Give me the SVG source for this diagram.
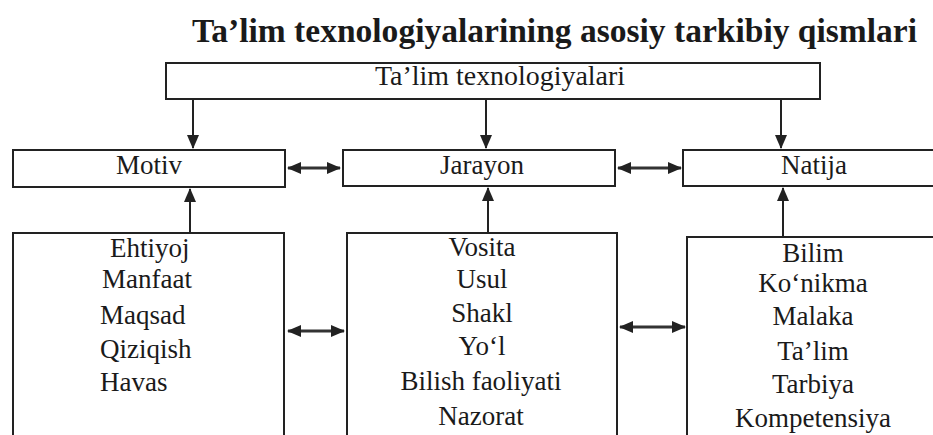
<svg xmlns="http://www.w3.org/2000/svg" width="933" height="435" viewBox="0 0 933 435">
<style>
.box{fill:#fff;stroke:#222;stroke-width:2}
.t{font-family:'Liberation Serif','Tinos','Times New Roman','Nimbus Roman','DejaVu Serif',serif;font-size:27px;fill:#1a1a1a}
.c{text-anchor:middle}
.title{font-family:'Liberation Serif','Tinos','Times New Roman','Nimbus Roman','DejaVu Serif',serif;font-size:33px;font-weight:bold;fill:#1a1a1a}
.ln{stroke:#222;stroke-width:2;fill:none}
.hl{stroke:#333;stroke-width:3;fill:none}
</style>
<defs>
<marker id="ah" viewBox="0 0 14 12" markerWidth="14" markerHeight="12" refX="13" refY="6" orient="auto-start-reverse" markerUnits="userSpaceOnUse">
<path d="M0,0 L14,6 L0,12 z" fill="#222"/>
</marker>
</defs>
<rect width="933" height="435" fill="#fff"/>
<text class="title" x="192" y="42" textLength="725" lengthAdjust="spacingAndGlyphs">Ta’lim texnologiyalarining asosiy tarkibiy qismlari</text>

<g id="top">
<rect class="box" x="166" y="63" width="654" height="36"/>
<text class="t" x="375" y="85" textLength="250" lengthAdjust="spacingAndGlyphs">Ta’lim texnologiyalari</text>
</g>

<g id="motiv">
<rect class="box" x="13" y="150" width="272" height="37"/>
<text class="t c" x="149" y="174">Motiv</text>
</g>
<g id="jarayon">
<rect class="box" x="343" y="150" width="272" height="36"/>
<text class="t c" x="482" y="174">Jarayon</text>
</g>
<g id="natija">
<rect class="box" x="683" y="150" width="270" height="36"/>
<text class="t c" x="814" y="174">Natija</text>
</g>

<g id="motiv-items">
<rect class="box" x="13" y="233" width="271" height="215"/>
<text class="t" x="110" y="257">Ehtiyoj</text>
<text class="t" x="102" y="288">Manfaat</text>
<text class="t" x="100" y="324">Maqsad</text>
<text class="t" x="100" y="358">Qiziqish</text>
<text class="t" x="100" y="391">Havas</text>
</g>
<g id="jarayon-items">
<rect class="box" x="347" y="233" width="270" height="215"/>
<text class="t c" x="482" y="256">Vosita</text>
<text class="t c" x="482" y="288">Usul</text>
<text class="t c" x="482" y="322">Shakl</text>
<text class="t c" x="482" y="355">Yo‘l</text>
<text class="t c" x="481" y="390">Bilish faoliyati</text>
<text class="t c" x="481" y="425">Nazorat</text>
</g>
<g id="natija-items">
<rect class="box" x="687" y="237" width="266" height="211"/>
<text class="t c" x="813" y="262">Bilim</text>
<text class="t c" x="813" y="292">Ko‘nikma</text>
<text class="t c" x="813" y="325">Malaka</text>
<text class="t c" x="813" y="360">Ta’lim</text>
<text class="t c" x="813" y="393">Tarbiya</text>
<text class="t c" x="813" y="427">Kompetensiya</text>
</g>

<g id="connectors">
<line class="ln" x1="193" y1="99" x2="193" y2="148" marker-end="url(#ah)"/>
<line class="ln" x1="486" y1="99" x2="486" y2="148" marker-end="url(#ah)"/>
<line class="ln" x1="781" y1="99" x2="781" y2="148" marker-end="url(#ah)"/>
<line class="ln" x1="190" y1="233" x2="190" y2="189" marker-end="url(#ah)"/>
<line class="ln" x1="488" y1="233" x2="488" y2="188" marker-end="url(#ah)"/>
<line class="ln" x1="783" y1="237" x2="783" y2="188" marker-end="url(#ah)"/>
<line class="hl" x1="288" y1="168" x2="340" y2="168" marker-start="url(#ah)" marker-end="url(#ah)"/>
<line class="hl" x1="618" y1="168" x2="681" y2="168" marker-start="url(#ah)" marker-end="url(#ah)"/>
<line class="hl" x1="288" y1="331" x2="344" y2="331" marker-start="url(#ah)" marker-end="url(#ah)"/>
<line class="hl" x1="620" y1="327" x2="685" y2="327" marker-start="url(#ah)" marker-end="url(#ah)"/>
</g>
</svg>
